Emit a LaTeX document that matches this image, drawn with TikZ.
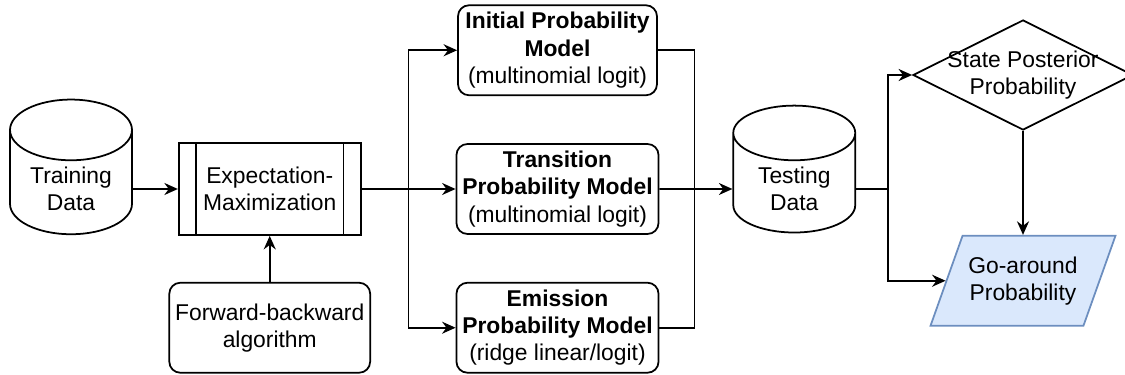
\documentclass[tikz,border=0pt]{standalone}
\usepackage{fontspec}
\setmainfont{Liberation Sans}
\usetikzlibrary{
    arrows.meta,
    positioning,
    shapes.geometric
}
\definecolor{GoFill}{RGB}{218,232,252}
\definecolor{GoLine}{RGB}{108,142,191}
\newcommand{\boxfont}{\fontsize{13}{15.5}\selectfont}
\tikzset{
  block/.style   = {draw, rounded corners=0.22cm, minimum width=3.98cm,
                    minimum height=1.8cm, align=center, font=\boxfont, line width=1pt},
  procbox/.style = {draw, minimum width=3.64cm, minimum height=1.84cm,
                    align=center, font=\boxfont, line width=1pt},
  datab/.style   = {draw, cylinder, shape border rotate=90, aspect=0.65,
                    minimum width=2.44cm, minimum height=2.16cm, align=center,
                    font=\boxfont, line width=1pt},
  decis/.style   = {draw, diamond, aspect=2, inner sep=0pt, inner xsep=-8pt,
                    minimum width=4.24cm, minimum height=2.12cm, align=center,
                    font=\boxfont, line width=1pt},
  outbox/.style  = {draw=GoLine, fill=GoFill, trapezium, trapezium left angle=62,
                    trapezium right angle=118, trapezium stretches body,
                    minimum width=3.66cm, minimum height=1.8cm, align=center,
                    font=\boxfont, line width=1pt},
  arr/.style     = {-{Stealth[length=2.7mm,width=2.4mm]}, line width=1pt},
  ln/.style      = {line width=1pt}
}

\begin{document}
\begin{tikzpicture}[x=0.02cm, y=-0.02cm]
\useasboundingbox (0,0) rectangle (1125,375);
% training side
\node[datab] (train) at (71,189) {Training\\Data};
\node[procbox, right=0.9cm of train] (em) {Expectation-\\Maximization};
\draw[ln] ([xshift=0.36cm]em.north west) -- ([xshift=0.36cm]em.south west);
\draw[ln] ([xshift=-0.36cm]em.north east) -- ([xshift=-0.36cm]em.south east);
\node[block, below=0.92cm of em] (fb) {Forward-backward\\algorithm};
% the three models
\node[block, right=1.88cm of em] (trans) {\textbf{Transition}\\\textbf{Probability Model}\\(multinomial logit)};
\node[block, above=0.94cm of trans] (init) {\textbf{Initial Probability}\\\textbf{Model}\\(multinomial logit)};
\node[block, below=0.94cm of trans] (emis) {\textbf{Emission}\\\textbf{Probability Model}\\(ridge linear/logit)};
\coordinate[right=0.94cm of em] (split);
\coordinate[right=0.7cm of trans] (merge);
% testing side
\node[datab, right=1.46cm of trans] (test) {Testing\\Data};
\coordinate[right=0.64cm of test] (fork);
\node[decis] (post) at (1023,75) {State Posterior\\Probability};
\node[outbox, below=2.08cm of post] (goa) {Go-around\\Probability};

\draw[arr] (train) -- (em);
\draw[arr] (fb) -- (em);
\draw[arr] (em) -- (trans);
\draw[arr] (split) |- (init);
\draw[arr] (split) |- (emis);
\draw[ln] (init) -| (merge) |- (emis);
\draw[arr] (trans) -- (test);
\draw[ln] (test) -- (fork);
\draw[arr] (fork) |- (post);
\draw[arr] (fork) |- (goa);
\draw[arr] (post) -- (post.south |- goa.north);
\end{tikzpicture}
\end{document}
